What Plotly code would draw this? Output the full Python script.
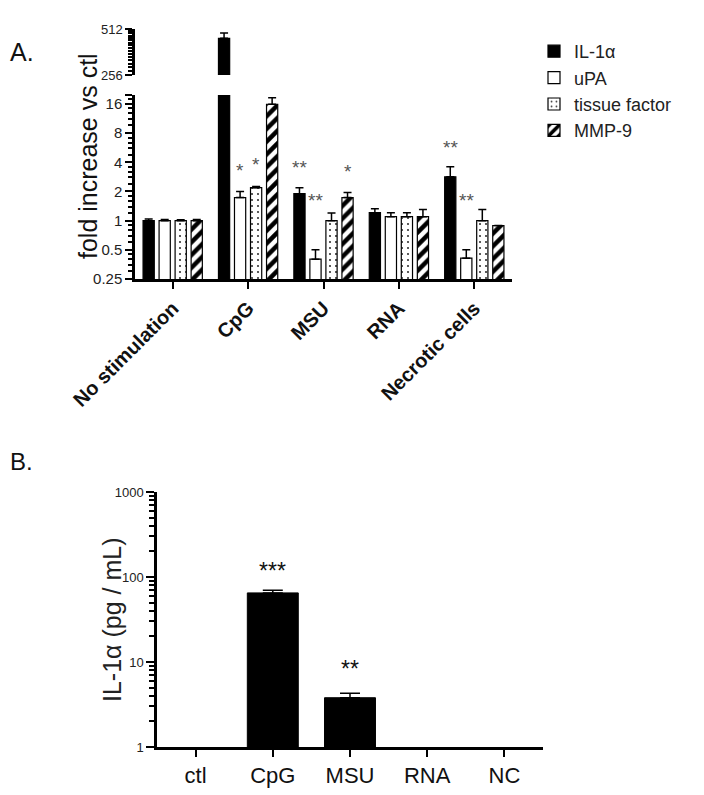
import math
import plotly.graph_objects as go

# ---------------- Data: panel A ----------------
categories_A = ["No stimulation", "CpG", "MSU", "RNA", "Necrotic cells"]
series_names = ["IL-1α", "uPA", "tissue factor", "MMP-9"]
il1a = [1.0, 445, 1.9, 1.21, 2.84]
il1a_err = [0.04, 37, 0.29, 0.12, 0.76]
upa = [1.0, 1.73, 0.40, 1.10, 0.41]
upa_err = [0.03, 0.27, 0.10, 0.11, 0.09]
tissue_factor = [1.0, 2.19, 1.0, 1.10, 1.0]
tissue_factor_err = [0.02, 0.06, 0.20, 0.11, 0.30]
mmp9 = [1.0, 15.9, 1.73, 1.10, 0.89]
mmp9_err = [0.03, 2.6, 0.22, 0.20, 0.0]
# significance marks: (category index, series index, label, level)
stars_A = [
    (1, 0, "***", 642),
    (1, 1, "*", 3.69),
    (1, 2, "*", 4.25),
    (1, 3, "***", 33.6),
    (2, 0, "**", 3.96),
    (2, 1, "**", 1.81),
    (2, 3, "*", 3.6),
    (4, 0, "**", 6.37),
    (4, 1, "**", 1.81),
]
ticks_low = [0.25, 0.5, 1, 2, 4, 8, 16]
ticks_low_text = ["0.25", "0.5", "1", "2", "4", "8", "16"]
ticks_high = [256, 512]

# ---------------- Data: panel B ----------------
categories_B = ["ctl", "CpG", "MSU", "RNA", "NC"]
il1a_pg = [None, 65, 3.8, None, None]
il1a_pg_err = [0, 5, 0.5, 0, 0]
stars_B = [(1, "***", 138), (2, "**", 9.7)]

W, H = 704, 795
OFF = 8  # page body margin offset
def px_x(p): return (p - OFF) / W
def px_y(p): return 1 - (p - OFF) / H

FONT = "Liberation Sans, Arial, sans-serif"
fig = go.Figure()

series_vals = [il1a, upa, tissue_factor, mmp9]
series_errs = [il1a_err, upa_err, tissue_factor_err, mmp9_err]
styles = [
    dict(color="black", pattern=None),
    dict(color="white", pattern=None),
    dict(color="white", pattern=dict(shape=".", fgcolor="#333", bgcolor="white", size=6,
                                     solidity=0.1, fgopacity=1)),
    dict(color="white", pattern=dict(shape="/", fgcolor="black", bgcolor="white", size=9,
                                     solidity=0.5, fgopacity=1)),
]

for yax, show in (("y", True), ("y2", False)):
    for name, vals, errs, st in zip(series_names, series_vals, series_errs, styles):
        marker = dict(color=st["color"], line=dict(color="black", width=1.2))
        if st["pattern"]:
            marker["pattern"] = st["pattern"]
        fig.add_trace(go.Bar(
            x=categories_A, y=vals, name=name, xaxis="x", yaxis=yax,
            showlegend=show, marker=marker,
            error_y=dict(type="data", array=errs, arrayminus=[0] * len(errs),
                         symmetric=False, color="black", thickness=1.5, width=4),
        ))

fig.add_trace(go.Bar(
    x=categories_B, y=il1a_pg, xaxis="x2", yaxis="y3", showlegend=False, width=0.66,
    marker=dict(color="black", line=dict(color="black", width=1)),
    error_y=dict(type="data", array=il1a_pg_err, arrayminus=[0] * 5,
                 symmetric=False, color="black", thickness=1.5, width=10),
))

bargap_A, groupgap_A = 0.15, 0.30
slot = (1 - bargap_A) / 4
offsets = [(-1.5 + i) * slot for i in range(4)]

annotations = []
for ci, si, lab, lvl in stars_A:
    yref = "y2" if lvl > 256 else "y"
    annotations.append(dict(
        x=ci + offsets[si], y=math.log10(lvl), xref="x", yref=yref, text=lab,
        xanchor="center", yanchor="middle",
        showarrow=False, yshift=-5, font=dict(size=19, color="#555", family=FONT)))
for ci, lab, lvl in stars_B:
    annotations.append(dict(
        x=ci, y=math.log10(lvl), xref="x2", yref="y3", text=lab,
        xanchor="center", yanchor="middle",
        showarrow=False, yshift=-6, font=dict(size=23, color="#111", family=FONT)))

annotations += [
    dict(text="A.", x=px_x(8), y=px_y(52), xref="paper", yref="paper", xanchor="left",
         yanchor="middle", showarrow=False, font=dict(size=25, color="#111", family=FONT)),
    dict(text="B.", x=px_x(8), y=px_y(461), xref="paper", yref="paper", xanchor="left",
         yanchor="middle", showarrow=False, font=dict(size=24, color="#111", family=FONT)),
    dict(text="fold increase vs ctl", x=px_x(88), y=px_y(156), xref="paper", yref="paper",
         xanchor="center", yanchor="middle",
         textangle=-90, showarrow=False, font=dict(size=25, color="#111", family=FONT)),
    dict(text="IL-1α (pg / mL)", x=px_x(112), y=px_y(620), xref="paper", yref="paper",
         xanchor="center", yanchor="middle",
         textangle=-90, showarrow=False, font=dict(size=25, color="#222", family=FONT)),
]

low_top = 19.8
minor_low = [a * f for a in ticks_low[:-1] for f in (1.2, 1.4, 1.6, 1.8)] + [18]
minor_high = [256 + 16 * k for k in range(1, 16)]
minor_b = [m * 10 ** e for e in range(0, 3) for m in range(2, 10)]

axis_common = dict(showline=True, linecolor="black", ticks="outside", tickcolor="black",
                   showgrid=False, zeroline=False)

fig.update_layout(
    width=W, height=H, plot_bgcolor="white", paper_bgcolor="white",
    margin=dict(l=0, r=0, t=0, b=0, autoexpand=False),
    barmode="group", bargap=bargap_A, bargroupgap=groupgap_A,
    font=dict(family=FONT, color="#222"),
    xaxis=dict(domain=[px_x(135), px_x(512)], anchor="y", range=[-0.5, 4.5],
               categoryorder="array", categoryarray=categories_A,
               linewidth=2.5, ticklen=7, tickwidth=2, tickangle=-45,
               tickfont=dict(size=20, color="#111", weight="bold"), **axis_common),
    yaxis=dict(domain=[px_y(279), px_y(95)], anchor="x", type="log",
               range=[math.log10(0.25), math.log10(low_top)],
               tickvals=ticks_low + [low_top], ticktext=ticks_low_text + [""],
               linewidth=2.5, ticklen=7, tickwidth=2,
               tickfont=dict(size=15, color="#222"),
               minor=dict(tickvals=minor_low, ticks="outside", ticklen=4, tickwidth=1.5,
                          tickcolor="black"), **axis_common),
    yaxis2=dict(domain=[px_y(75), px_y(29)], anchor="x", type="log",
                range=[math.log10(256), math.log10(512)],
                tickvals=ticks_high, ticktext=[str(t) for t in ticks_high],
                linewidth=2.5, ticklen=7, tickwidth=2,
                tickfont=dict(size=13, color="#222"),
                minor=dict(tickvals=minor_high, ticks="outside", ticklen=4, tickwidth=1.5,
                           tickcolor="black"), **axis_common),
    xaxis2=dict(domain=[px_x(157), px_x(543)], anchor="y3", range=[-0.5, 4.5],
                categoryorder="array", categoryarray=categories_B,
                linewidth=2.5, ticklen=7, tickwidth=2,
                tickfont=dict(size=22, color="#111"), **axis_common),
    yaxis3=dict(domain=[px_y(747), px_y(492)], anchor="x2", type="log", range=[0, 3],
                tickvals=[1, 10, 100, 1000], ticktext=["1", "10", "100", "1000"],
                linewidth=2.5, ticklen=8, tickwidth=2,
                tickfont=dict(size=13, color="#222"),
                minor=dict(tickvals=minor_b, ticks="outside", ticklen=5, tickwidth=1.5,
                           tickcolor="black"), **axis_common),
    legend=dict(x=px_x(534), y=px_y(33), xanchor="left", yanchor="top",
                font=dict(size=18, color="#222"), bgcolor="rgba(0,0,0,0)",
                tracegroupgap=0),
    annotations=annotations,
)

fig.write_html("out.html")
